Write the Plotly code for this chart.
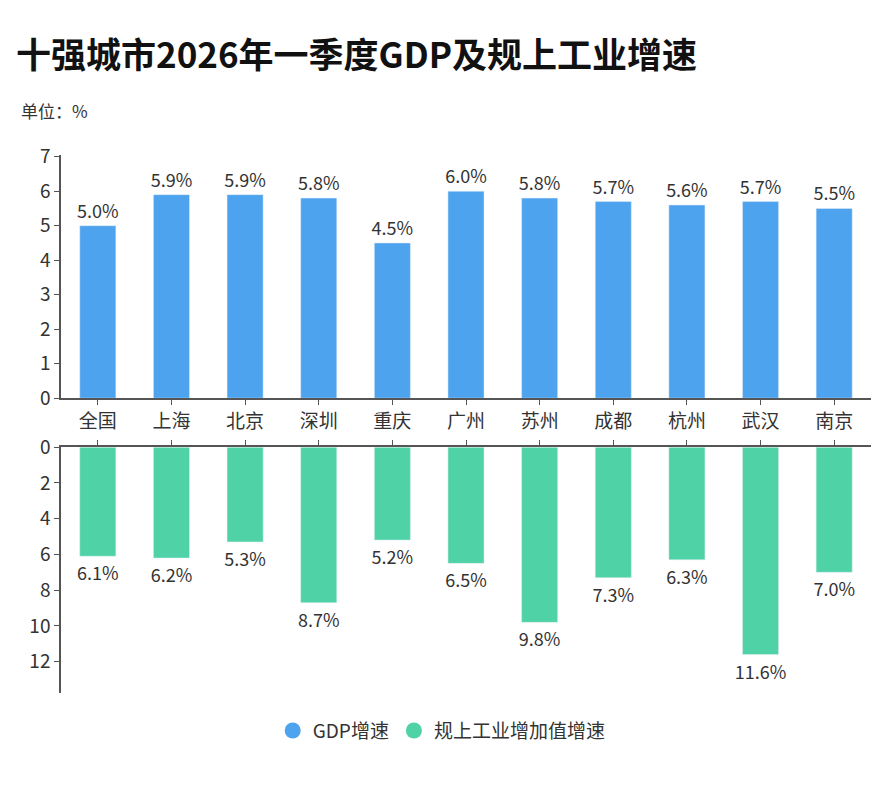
import plotly.graph_objects as go

cities = ["全国", "上海", "北京", "深圳", "重庆", "广州", "苏州", "成都", "杭州", "武汉", "南京"]
gdp = [5.0, 5.9, 5.9, 5.8, 4.5, 6.0, 5.8, 5.7, 5.6, 5.7, 5.5]
ind = [6.1, 6.2, 5.3, 8.7, 5.2, 6.5, 9.8, 7.3, 6.3, 11.6, 7.0]
top_ticks = [0, 1, 2, 3, 4, 5, 6, 7]
bot_ticks = [0, 2, 4, 6, 8, 10, 12]

BLUE = "#4DA3EE"
GREEN = "#4ED2A6"
FONT = "Noto Sans CJK SC"
AX = "#555555"

fig = go.Figure()
fig.add_trace(go.Bar(x=cities, y=gdp, marker=dict(color=BLUE), width=0.49,
                     text=[f"{v:.1f}%" for v in gdp], textposition="outside",
                     constraintext="none",
                     textfont=dict(size=18, color="#333333", family=FONT),
                     cliponaxis=False, showlegend=False, xaxis="x", yaxis="y"))
fig.add_trace(go.Bar(x=cities, y=ind, marker=dict(color=GREEN), width=0.49,
                     text=[f"{v:.1f}%" for v in ind], textposition="outside",
                     constraintext="none",
                     textfont=dict(size=18, color="#333333", family=FONT),
                     cliponaxis=False, showlegend=False, xaxis="x2", yaxis="y2"))
fig.add_trace(go.Scatter(x=[None], y=[None], mode="markers", name="GDP增速",
                         marker=dict(color=BLUE, size=18, symbol="circle"), xaxis="x", yaxis="y"))
fig.add_trace(go.Scatter(x=[None], y=[None], mode="markers", name="规上工业增加值增速",
                         marker=dict(color=GREEN, size=18, symbol="circle"), xaxis="x", yaxis="y"))

axis_common = dict(showgrid=False, zeroline=False, showline=True, linecolor=AX, linewidth=1.5,
                   ticks="outside", ticklen=5, tickcolor=AX, tickwidth=1.2,
                   tickfont=dict(size=19, color="#333333", family=FONT))

fig.update_layout(
    width=896, height=799,
    paper_bgcolor="white", plot_bgcolor="white",
    margin=dict(l=61, r=25, t=155, b=106),
    font=dict(family=FONT),
    bargap=0.5,
    xaxis=dict(domain=[0, 1], anchor="y", type="category", **axis_common),
    yaxis=dict(domain=[0.548, 1], anchor="x", range=[0, 7.05], tickvals=top_ticks, **axis_common),
    xaxis2=dict(domain=[0, 1], anchor="y2", type="category", side="top", showticklabels=False,
                **axis_common),
    yaxis2=dict(domain=[0, 0.457], anchor="x2", range=[13.75, 0], tickvals=bot_ticks, **axis_common),
    legend=dict(orientation="h", x=0.47, xanchor="center", y=-0.07, yanchor="middle",
                font=dict(size=19, color="#333333", family=FONT), itemwidth=30,
                tracegroupgap=30),
    annotations=[
        dict(text="<b>十强城市2026年一季度GDP及规上工业增速</b>", xref="paper", yref="paper",
             x=-0.058, y=1.19, xanchor="left", yanchor="middle", showarrow=False,
             font=dict(size=35, color="#111111", family=FONT)),
        dict(text="单位：%", xref="paper", yref="paper", x=-0.052, y=1.083,
             xanchor="left", yanchor="middle", showarrow=False,
             font=dict(size=17, color="#333333", family=FONT)),
    ],
)

fig.write_html("out.html")
